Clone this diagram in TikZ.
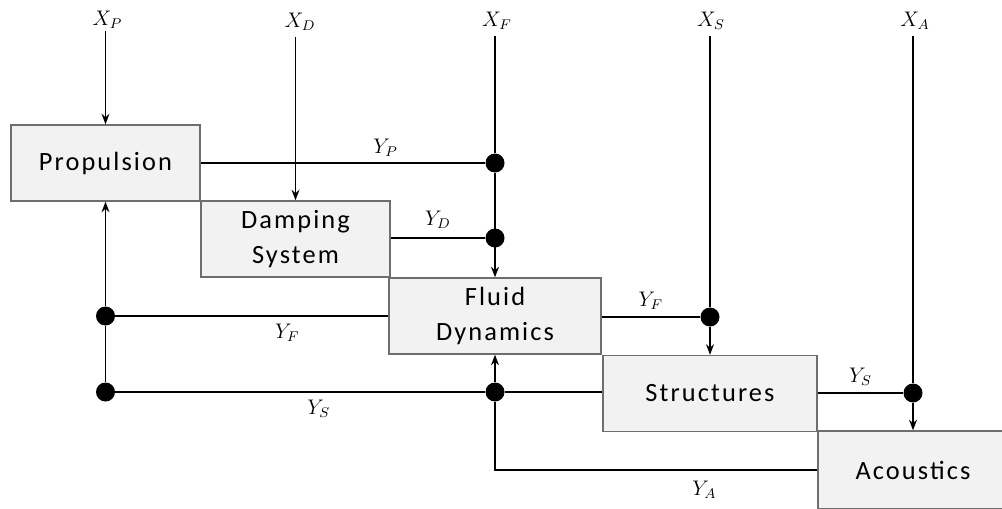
\documentclass[tikz,border=0pt]{standalone}
\usepackage{fontspec}
\setmainfont{Carlito}
\newfontfamily\blockfont{Carlito}[LetterSpace=8]
\usetikzlibrary{shapes,arrows,arrows.meta,positioning,calc}
\definecolor{boxgray}{RGB}{242, 242, 242}
\definecolor{edgegray}{RGB}{110, 110, 110}

\tikzset{
    block/.style={draw=edgegray, fill=boxgray, line width=0.8pt, minimum height=1.52cm, align=center, font=\blockfont\fontsize{15}{20}\selectfont},
    joint/.style={circle, fill=black, inner sep=0pt, minimum size=0.38cm},
    sig/.style={font=\large, inner sep=1pt},
    wire/.style={line width=0.9pt}
}

\begin{document}
\begin{tikzpicture}[>={Stealth[length=6pt, width=4.5pt]}]
    \useasboundingbox (0,0) rectangle (20.04,-10.16);

    % Blocks
    \node[block, minimum width=3.78cm] (PROP) at (2.11,-3.26) {Propulsion};
    \node[block, minimum width=3.78cm] (DAMP) at (5.91,-4.78) {Damping\\System};
    \node[block, minimum width=4.24cm] (FLUID) at (9.90,-6.32) {Fluid\\Dynamics};
    \node[block, minimum width=4.28cm] (STRUCT) at (14.20,-7.87) {Structures};
    \node[block, minimum width=3.80cm, minimum height=1.56cm] (ACOU) at (18.26,-9.40) {Acoustics};

    % Inputs
    \node[sig] (XP) at (2.15,-0.40) {$X_P$};
    \node[sig] (XD) at (6.00,-0.44) {$X_D$};
    \node[sig] (XF) at (9.94,-0.42) {$X_F$};
    \node[sig] (XS) at (14.22,-0.42) {$X_S$};
    \node[sig] (XA) at (18.30,-0.42) {$X_A$};

    % Junctions
    \node[joint] (JP) at (9.90,-3.26) {};
    \node[joint] (JD) at (9.90,-4.76) {};
    \node[joint] (JF) at (14.20,-6.34) {};
    \node[joint] (JS) at (18.26,-7.86) {};
    \node[joint] (JL1) at (2.11,-6.32) {};
    \node[joint] (JL2) at (2.11,-7.84) {};
    \node[joint] (JC) at (9.90,-7.84) {};

    % Input arrows
    \draw[->, wire] (XP.south -| PROP) -- (PROP.north);
    \draw[->, wire] ($(XD.south -| DAMP)+(0,-0.08)$) -- (DAMP.north);
    \draw[wire] ($(XF.south -| JP)+(0,-0.08)$) -- (JP);
    \draw[->, line width=1.6pt] (JP) -- (FLUID.north);
    \draw[wire] ($(XS.south -| JF)+(0,-0.08)$) -- (JF);
    \draw[->, wire] (JF) -- (STRUCT.north -| JF);
    \draw[wire] ($(XA.south -| JS)+(0,-0.08)$) -- (JS);
    \draw[->, wire] (JS) -- (ACOU.north -| JS);

    % Outputs
    \draw[wire] (PROP.east) -- (JP) node[sig, pos=0.65, above=2pt] {$Y_P$};
    \draw[wire] (DAMP.east |- JD) -- (JD) node[sig, midway, above=4pt] {$Y_D$};
    \draw[wire] (FLUID.east |- JF) -- (JF) node[sig, midway, above=3pt] {$Y_F$};
    \draw[wire] (FLUID.west) -- (JL1) node[sig, pos=0.37, below=3pt] {$Y_F$};
    \draw[wire] (STRUCT.east |- JS) -- (JS) node[sig, midway, above=3pt] {$Y_S$};
    \draw[wire] (STRUCT.west |- JC) -- (JC) -- (JL2) node[sig, pos=0.45, below=3pt] {$Y_S$};
    \draw[->, wire] (JL2) -- (JL1) -- (PROP.south);
    \draw[->, wire] (JC) -- (FLUID.south);
    \draw[wire] (ACOU.west) -- (ACOU.west -| JC) node[sig, pos=0.35, below=5pt] {$Y_A$} -- (JC);
\end{tikzpicture}
\end{document}
